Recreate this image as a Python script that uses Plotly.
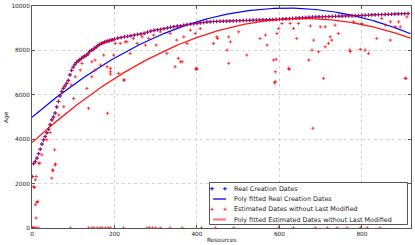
import numpy as np
import plotly.graph_objects as go

# ---- data ----
real_x = [0, 0, 4, 8, 12, 16, 20, 24, 28, 32, 36, 40, 44, 48, 52, 56, 60, 64, 68, 72, 76, 80, 84, 88, 92,
          96, 100, 104, 108, 112, 116, 120, 124, 128, 132, 136, 140, 144, 148, 152, 156, 160, 164,
          168, 172, 176, 180, 184, 188, 192, 196, 200,
          208, 216, 224, 232, 240, 248, 256, 264, 272, 280, 288, 296, 304, 312, 320, 328, 336, 344,
          352, 360, 368, 376, 384, 392, 400, 408, 416, 424, 432, 440, 448, 456, 464, 472, 480, 488,
          496, 504, 512, 520, 528, 536, 544, 552, 560, 568, 576, 584, 592, 600, 608, 616, 624, 632,
          640, 648, 656, 664, 672, 680, 688, 696, 704, 712, 720, 728, 736, 744, 752, 760, 768, 776,
          784, 792, 800, 808, 816, 824, 832, 840, 848, 856, 864, 872, 880, 888, 896, 904, 912]
real_y = [0, 2320, 2900, 3000, 3150, 3350, 3550, 3780, 3970, 4120, 4290, 4450, 4650, 4870, 5000, 5180,
          5450, 5700, 5950, 6150, 6290, 6400, 6520, 6650, 6900, 7100, 7250, 7370, 7460, 7530, 7580,
          7640, 7700, 7740, 7780, 7850, 7950, 8010, 8040, 8100, 8160, 8220, 8270, 8310, 8340, 8370,
          8400, 8420, 8440, 8460, 8480, 8500,
          8550, 8580, 8610, 8630, 8660, 8690, 8720, 8740, 8770, 8820, 8870, 8900, 8930, 8950, 8980,
          9010, 9040, 9070, 9090, 9110, 9130, 9160, 9180, 9200, 9220, 9240, 9260, 9280, 9290, 9300,
          9305, 9310, 9315, 9320, 9325, 9330, 9335, 9340, 9345, 9350, 9355, 9360, 9365, 9370, 9375,
          9380, 9385, 9390, 9395, 9400, 9410, 9420, 9430, 9440, 9450, 9460, 9470, 9480, 9490, 9500,
          9505, 9510, 9515, 9520, 9525, 9530, 9535, 9540, 9545, 9550, 9555, 9560, 9565, 9570, 9575,
          9580, 9590, 9600, 9605, 9610, 9615, 9620, 9625, 9630, 9640, 9645, 9650, 9655, 9660]

# estimated dates that differ from the real ones (outliers)
est_out_x = [4, 10, 8, 14, 10, 16, 24, 36, 44, 48, 50, 56, 55, 65, 77, 101, 95, 105, 117, 121, 133,
             137, 145, 153, 166, 174, 182, 183, 190, 198, 202, 210, 224, 230, 246, 255, 6, 8, 12, 19,
             57, 51, 214, 226, 238, 267, 275, 283, 295, 311, 327, 335, 351, 355, 360, 368, 376, 384,
             396, 398, 408, 440, 448, 450, 473, 477, 481, 477, 501, 521, 553, 566, 570, 586, 590,
             594, 598, 606, 622, 626, 634, 642, 646, 671, 675, 590, 592, 707, 905, 770, 796, 816,
             836, 869, 400, 347, 301, 683, 679, 695, 699, 711, 711, 719, 723, 727, 735, 743, 772,
             780, 808, 800, 848, 857, 869, 881, 889, 893, 909, 145, 153, 190, 190, 222, 364, 398,
             588, 624, 681, 907]
est_out_y = [1870, 2320, 1047, 1195, 450, 2920, 3294, 3970, 4297, 2247, 2620, 2845, 3520, 5090, 5465,
             5840, 6440, 6813, 7115, 7415, 6290, 5393, 6813, 7564, 7340, 7790, 7263, 5170, 7038,
             7790, 8315, 6966, 6665, 8386, 8540, 8315, 1825, 2170, 1150, 2920, 2876, 2575, 8315,
             8386, 7865, 8611, 8238, 8540, 8688, 8836, 7865, 8764, 8463, 7640, 7488, 8611, 8315,
             8912, 8764, 7190, 8988, 8315, 8611, 8540, 8013, 8611, 8386, 7415, 8836, 7790, 8540,
             8688, 8238, 7565, 7038, 8764, 8988, 9213, 7190, 9213, 8988, 8540, 9213, 7565, 9100,
             6590, 7600, 6742, 6742, 8013, 8045, 7865, 8540, 8463, 7160, 7263, 8238, 8463, 8013,
             7940, 9060, 9060, 8162, 8315, 8611, 8463, 9137, 8764, 7940, 9286, 8013, 9213, 9438,
             9137, 9286, 9060, 9286, 9060, 9510, 7488, 7115, 7190, 6935, 6665, 7488, 7146, 6544,
             7146, 4494, 6742]
# estimated dates equal to zero
est_zero_x = [0, 3, 6, 10, 15, 93, 137, 145, 150, 158, 165, 170, 178, 185, 190, 222, 279, 285, 292,
              300, 311, 335, 364, 411, 445, 489, 598, 634, 687, 716, 740, 764, 796, 813, 844]
est_zero_y = [0] * len(est_zero_x)

# quadratic fit coefficients (highest power first)
real_fit_coef = [-0.01286, 15.90, 4989]
est_fit_coef = [-0.01297, 17.03, 3847]
n_resources = 919

x_ticks = [0, 200, 400, 600, 800]
y_ticks = [0, 2000, 4000, 6000, 8000, 10000]
legend_labels = ["Real Creation Dates", "Poly fitted Real Creation Dates",
                 "Estimated Dates without Last Modified",
                 "Poly fitted Estimated Dates without Last Modified"]

# ---- styles ----
BLUE = "#0000ff"
RED = "rgba(255,0,0,0.8)"
TXT = "#222222"
FONT = "DejaVu Sans"
W, H = 415, 245
ML, MR, MT, MB = 32, 4, 6, 17

blue_marker = dict(symbol="cross-thin", size=2.6, color=BLUE, line=dict(width=1.0, color=BLUE))
red_marker = dict(symbol="cross-thin", size=2.4, color=RED, line=dict(width=0.9, color=RED))

fit_x = np.arange(n_resources)
est_x = list(real_x) + est_out_x + est_zero_x
est_y = list(real_y) + est_out_y + est_zero_y

fig = go.Figure()
fig.add_trace(go.Scatter(x=real_x, y=real_y, mode="markers", name=legend_labels[0], marker=blue_marker))
fig.add_trace(go.Scatter(x=fit_x, y=np.polyval(real_fit_coef, fit_x), mode="lines",
                         name=legend_labels[1], line=dict(color=BLUE, width=1.2)))
fig.add_trace(go.Scatter(x=est_x, y=est_y, mode="markers", name=legend_labels[2], marker=red_marker))
fig.add_trace(go.Scatter(x=fit_x, y=np.polyval(est_fit_coef, fit_x), mode="lines",
                         name=legend_labels[3], line=dict(color="rgba(255,0,0,0.9)", width=1.3)))

axis_common = dict(showline=True, linecolor="#555555", linewidth=1, mirror="ticks",
                   ticks="inside", ticklen=3, tickcolor="#555555", automargin=False,
                   showgrid=True, gridcolor="#cfcfcf", griddash="dot", gridwidth=0.9,
                   zeroline=False, tickfont=dict(size=5.8, color=TXT, family=FONT))

fig.update_xaxes(range=[0, n_resources], tickvals=x_ticks, ticktext=[str(v) for v in x_ticks],
                 **axis_common)
fig.update_yaxes(range=[0, 10000], tickvals=y_ticks, ticktext=[str(v) for v in y_ticks],
                 **axis_common)

# ---- custom legend drawn in a pixel-coordinate overlay (rows 10 px apart as in reference) ----
pw, ph = W - ML - MR, H - MT - MB
fig.update_layout(
    xaxis2=dict(overlaying="x", range=[ML, ML + pw], visible=False, fixedrange=True),
    yaxis2=dict(overlaying="y", range=[MT + ph, MT], visible=False, fixedrange=True),
)
bx0, bx1, by0, by1 = 209.5, 407.5, 182.5, 224.5
fig.add_trace(go.Scatter(x=[bx0, bx1, bx1, bx0, bx0], y=[by0, by0, by1, by1, by0], mode="lines",
                         fill="toself", fillcolor="white", line=dict(color="#555555", width=1),
                         xaxis="x2", yaxis="y2", showlegend=False, hoverinfo="skip"))
rows = [188.7, 199.0, 209.3, 219.5]
glyph_styles = [("m", blue_marker), ("l", dict(color=BLUE, width=1.3)),
                ("m", red_marker), ("l", dict(color="rgba(255,0,0,0.5)", width=2.2))]
for (kind, st), ry, lab in zip(glyph_styles, rows, legend_labels):
    if kind == "m":
        fig.add_trace(go.Scatter(x=[212, 225], y=[ry, ry], mode="markers", marker=st,
                                 xaxis="x2", yaxis="y2", showlegend=False, hoverinfo="skip"))
    else:
        fig.add_trace(go.Scatter(x=[213, 226], y=[ry, ry], mode="lines", line=st,
                                 xaxis="x2", yaxis="y2", showlegend=False, hoverinfo="skip"))
    fig.add_annotation(x=232, y=ry, xref="x2", yref="y2", text=lab, showarrow=False,
                       xanchor="left", yanchor="middle", font=dict(size=6.4, color=TXT, family=FONT))

# axis titles
fig.add_annotation(x=0.5, y=-(240 - (MT + ph)) / ph, xref="paper", yref="paper", text="Resources",
                   showarrow=False, xanchor="center", yanchor="middle",
                   font=dict(size=5.8, color=TXT, family=FONT))
fig.add_annotation(x=(6 - ML) / pw, y=0.5, xref="paper", yref="paper", text="Age", textangle=-90,
                   showarrow=False, xanchor="center", yanchor="middle",
                   font=dict(size=5.8, color=TXT, family=FONT))

fig.update_layout(
    width=W, height=H,
    margin=dict(l=ML, r=MR, t=MT, b=MB, pad=0),
    paper_bgcolor="white", plot_bgcolor="white",
    font=dict(family=FONT, size=6, color=TXT),
    showlegend=False,
)

fig.write_html("out.html", config={"displayModeBar": False, "staticPlot": True},
               post_script="document.body.style.margin='0';document.body.style.padding='0';")
